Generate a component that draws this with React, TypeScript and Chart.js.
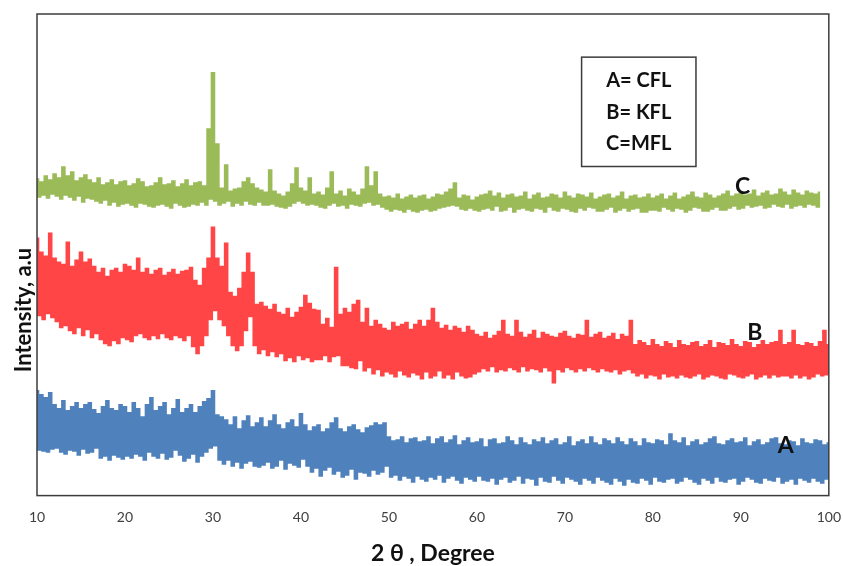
import { useEffect, useRef } from "react";
import { Chart, registerables } from "chart.js";

Chart.register(...registerables);

// 2θ grid of the scan: start and step (degrees)
const ANGLE_START = 10;
const ANGLE_STEP = 0.25;
const X_TICKS = [10, 20, 30, 40, 50, 60, 70, 80, 90, 100];

// C = MFL (green), offset trace, 10° .. 99° (one row = 5°)
const SERIES_C = [
  315, 298, 312, 300, 318, 297, 314, 301, 320, 299, 316, 296, 327, 300, 318, 298, 322, 295, 313, 299,
  316, 293, 319, 297, 314, 296, 311, 294, 316, 292, 309, 295, 311, 290, 314, 293, 309, 289, 312, 291,
  313, 292, 308, 290, 310, 288, 315, 292, 312, 291, 307, 289, 308, 288, 311, 290, 316, 291, 309, 289,
  310, 287, 313, 292, 307, 290, 310, 288, 314, 289, 308, 291, 311, 290, 312, 293, 308, 290, 365, 296,
  421, 294, 350, 290, 306, 292, 329, 294, 303, 289, 305, 292, 306, 290, 312, 294, 316, 291, 310, 290,
  306, 293, 304, 290, 302, 290, 324, 291, 303, 289, 300, 288, 298, 287, 302, 289, 310, 292, 326, 294,
  306, 292, 303, 290, 316, 291, 300, 290, 302, 288, 299, 287, 306, 290, 322, 292, 300, 289, 303, 290,
  298, 287, 305, 291, 302, 290, 299, 289, 305, 292, 327, 293, 308, 290, 322, 291, 300, 288, 297, 286,
  298, 284, 296, 286, 300, 285, 295, 283, 297, 286, 299, 284, 296, 283, 298, 285, 299, 286, 295, 284,
  297, 285, 300, 287, 299, 288, 302, 289, 305, 290, 311, 289, 296, 286, 299, 285, 298, 287, 294, 285,
  297, 284, 299, 286, 300, 287, 303, 285, 298, 289, 301, 284, 296, 285, 299, 288, 300, 283, 297, 286,
  298, 287, 302, 285, 295, 284, 299, 287, 301, 286, 296, 283, 297, 288, 300, 285, 299, 284, 296, 287,
  302, 286, 298, 284, 296, 283, 300, 287, 299, 285, 297, 288, 301, 287, 295, 284, 297, 284, 299, 286,
  300, 288, 296, 283, 298, 285, 302, 287, 295, 284, 298, 286, 299, 287, 296, 283, 297, 283, 300, 285,
  296, 285, 298, 284, 300, 288, 295, 286, 298, 284, 301, 287, 295, 286, 297, 283, 299, 285, 302, 288,
  297, 287, 296, 284, 301, 284, 299, 286, 296, 288, 298, 285, 300, 285, 303, 287, 298, 289, 300, 286,
  302, 287, 299, 290, 300, 288, 304, 289, 298, 290, 301, 287, 303, 288, 299, 291, 300, 289, 305, 288,
  302, 291, 299, 287, 304, 289, 301, 290, 299, 288, 303, 291, 301, 290, 300, 288, 302,
];

// B = KFL (red), 10° .. 100° (one row = 5°)
const SERIES_B = [
  256, 180, 242, 176, 238, 182, 261, 178, 236, 174, 232, 168, 230, 170, 252, 165, 228, 162, 234, 168,
  242, 160, 232, 166, 235, 158, 228, 162, 222, 156, 226, 152, 218, 150, 224, 155, 226, 152, 222, 158,
  230, 156, 228, 154, 224, 160, 236, 162, 222, 158, 226, 156, 220, 160, 224, 157, 226, 162, 219, 158,
  222, 156, 225, 160, 220, 158, 223, 155, 224, 160, 227, 149, 214, 142, 209, 150, 226, 160, 236, 176,
  267, 185, 236, 176, 228, 170, 251, 160, 202, 150, 198, 145, 206, 150, 222, 165, 241, 179, 222, 150,
  190, 142, 192, 146, 188, 140, 185, 144, 190, 139, 182, 142, 180, 135, 186, 138, 177, 134, 182, 140,
  187, 136, 199, 138, 191, 134, 185, 136, 184, 136, 170, 140, 176, 134, 167, 139, 227, 140, 180, 130,
  186, 130, 182, 128, 190, 127, 194, 135, 172, 125, 186, 128, 168, 122, 174, 126, 170, 120, 166, 124,
  164, 122, 172, 119, 168, 125, 170, 121, 172, 119, 165, 123, 170, 121, 174, 117, 168, 124, 174, 118,
  186, 120, 172, 125, 166, 118, 169, 121, 164, 117, 168, 124, 166, 120, 162, 118, 168, 119, 164, 122,
  160, 124, 158, 127, 162, 125, 156, 129, 159, 124, 163, 126, 174, 125, 160, 128, 158, 126, 174, 124,
  162, 129, 157, 125, 160, 127, 164, 126, 156, 124, 162, 128, 160, 125, 158, 113, 157, 126, 161, 124,
  163, 128, 158, 126, 156, 124, 160, 127, 159, 125, 174, 128, 157, 126, 160, 124, 162, 127, 156, 125,
  158, 124, 161, 126, 155, 122, 160, 125, 158, 126, 174, 123, 150, 120, 154, 122, 152, 118, 149, 121,
  155, 120, 150, 117, 148, 122, 153, 119, 151, 120, 147, 118, 154, 121, 150, 119, 149, 118, 152, 120,
  153, 122, 148, 117, 150, 119, 154, 121, 147, 120, 152, 118, 151, 117, 149, 122, 155, 121, 150, 119,
  148, 118, 153, 120, 152, 122, 147, 117, 150, 119, 154, 121, 150, 118, 152, 121, 153, 119, 164, 120,
  150, 120, 152, 118, 164, 121, 150, 118, 149, 120, 152, 117, 151, 119, 148, 122, 153, 120, 164, 121,
  150,
];

// A = CFL (blue), 10° .. 100° (one row = 5°)
const SERIES_A = [
  104, 46, 100, 45, 97, 44, 102, 47, 90, 48, 86, 44, 94, 42, 84, 46, 88, 45, 92, 41,
  86, 47, 90, 43, 92, 44, 85, 48, 81, 38, 88, 40, 94, 36, 86, 41, 84, 39, 90, 37,
  88, 40, 82, 38, 92, 42, 86, 40, 78, 36, 90, 44, 97, 40, 84, 38, 88, 43, 92, 37,
  80, 39, 86, 46, 95, 41, 82, 35, 86, 38, 90, 42, 82, 34, 88, 40, 93, 44, 96, 48,
  104, 50, 80, 36, 78, 32, 75, 36, 70, 30, 78, 34, 66, 28, 74, 33, 79, 35, 68, 30,
  72, 29, 77, 31, 68, 34, 74, 28, 80, 30, 70, 36, 66, 27, 72, 33, 75, 31, 68, 29,
  81, 37, 70, 30, 64, 24, 68, 28, 70, 20, 63, 26, 66, 29, 72, 22, 77, 25, 66, 19,
  63, 21, 68, 27, 70, 17, 65, 24, 62, 23, 67, 20, 69, 26, 72, 22, 70, 24, 72, 30,
  58, 19, 54, 21, 55, 16, 58, 20, 52, 18, 56, 14, 57, 20, 53, 17, 54, 15, 58, 19,
  51, 17, 56, 21, 58, 14, 52, 18, 55, 20, 59, 16, 50, 13, 54, 19, 57, 17, 52, 15,
  53, 20, 56, 16, 48, 15, 55, 18, 56, 12, 51, 17, 52, 19, 58, 14, 54, 16, 50, 20,
  57, 13, 52, 18, 50, 17, 55, 11, 53, 19, 57, 15, 51, 14, 54, 20, 56, 16, 50, 13,
  52, 19, 58, 17, 49, 15, 53, 12, 55, 18, 51, 16, 58, 13, 52, 19, 50, 16, 56, 14,
  54, 12, 51, 18, 57, 15, 53, 11, 50, 17, 56, 14, 53, 13, 49, 18, 56, 16, 52, 12,
  51, 19, 55, 15, 54, 14, 50, 17, 61, 18, 54, 13, 52, 15, 57, 19, 49, 17, 53, 14,
  55, 12, 50, 18, 52, 16, 56, 13, 58, 19, 51, 15, 50, 14, 54, 17, 56, 18, 52, 12,
  53, 15, 57, 19, 49, 17, 53, 14, 55, 13, 50, 18, 52, 16, 56, 15, 57, 19, 51, 13,
  50, 15, 54, 17, 53, 12, 49, 18, 56, 16, 52, 14, 51, 18, 55, 15, 54, 13, 50, 17,
  52,
];

const SERIES_LABELS = ["A", "B", "C"];
const LEGEND_LINES = ["A= CFL", "B= KFL", "C=MFL"];
const X_TITLE = "2 θ , Degree";
const Y_TITLE = "Intensity, a.u";

const COLOR_A = "#4F81BD";
const COLOR_B = "#FF4545";
const COLOR_C = "#9BBB59";

const toPoints = (vals: number[]) =>
  vals.map((v, i) => ({ x: ANGLE_START + i * ANGLE_STEP, y: v }));

const FONT = "Lato, 'Open Sans', sans-serif";

const overlay = {
  id: "overlay",
  afterDraw(chart: any) {
    const { ctx, chartArea: ca, scales } = chart;
    const xs = scales.x;
    const ys = scales.y;
    ctx.save();
    // frame
    ctx.strokeStyle = "#3c3c3c";
    ctx.lineWidth = 1.5;
    ctx.strokeRect(ca.left, ca.top, ca.right - ca.left, ca.bottom - ca.top);

    // curve letters
    ctx.fillStyle = "#111";
    ctx.font = `bold 23px ${FONT}`;
    ctx.textAlign = "center";
    ctx.textBaseline = "middle";
    const letterPos: [number, number][] = [
      [95.1, 50],
      [91.6, 162],
      [90.2, 308],
    ];
    SERIES_LABELS.forEach((t, i) => {
      ctx.fillText(t, xs.getPixelForValue(letterPos[i][0]), ys.getPixelForValue(letterPos[i][1]));
    });

    // legend box
    const bx0 = xs.getPixelForValue(71.9);
    const bx1 = xs.getPixelForValue(84.9);
    const by0 = ys.getPixelForValue(437);
    const by1 = ys.getPixelForValue(328);
    ctx.fillStyle = "#fff";
    ctx.fillRect(bx0, by0, bx1 - bx0, by1 - by0);
    ctx.strokeStyle = "#3c3c3c";
    ctx.lineWidth = 1.5;
    ctx.strokeRect(bx0, by0, bx1 - bx0, by1 - by0);
    ctx.fillStyle = "#111";
    ctx.font = `bold 20px ${FONT}`;
    const lineY = [414, 382, 351];
    LEGEND_LINES.forEach((t, i) => {
      ctx.fillText(t, (bx0 + bx1) / 2, ys.getPixelForValue(lineY[i]));
    });

    // y title
    ctx.translate(ca.left - 13, 310);
    ctx.rotate(-Math.PI / 2);
    ctx.font = `bold 22px ${FONT}`;
    ctx.fillText(Y_TITLE, 0, 0);
    ctx.restore();
  },
};

export default function App() {
  const ref = useRef<HTMLCanvasElement | null>(null);
  useEffect(() => {
    if (!ref.current) return;
    const lineStyle = { borderWidth: 2.4, stepped: "middle" as const, borderJoinStyle: "miter" as const };
    const chart = new Chart(ref.current, {
      type: "line",
      data: {
        datasets: [
          { label: "A", data: toPoints(SERIES_A), borderColor: COLOR_A, ...lineStyle },
          { label: "B", data: toPoints(SERIES_B), borderColor: COLOR_B, ...lineStyle },
          { label: "C", data: toPoints(SERIES_C), borderColor: COLOR_C, ...lineStyle },
        ],
      },
      options: {
        responsive: false,
        animation: false,
        layout: { padding: { left: 37, right: 2, top: 14, bottom: 0 } },
        elements: { point: { radius: 0 }, line: { tension: 0 } },
        plugins: { legend: { display: false }, tooltip: { enabled: false } },
        scales: {
          x: {
            type: "linear",
            min: 10,
            max: 100,
            grid: {
              display: true,
              drawOnChartArea: false,
              drawTicks: true,
              tickLength: 11,
              tickColor: "rgba(0,0,0,0)",
            },
            border: { display: false },
            afterBuildTicks: (axis: any) => {
              axis.ticks = X_TICKS.map((v) => ({ value: v }));
            },
            ticks: {
              padding: 2,
              color: "#404040",
              maxRotation: 0,
              autoSkip: false,
              font: { family: FONT, size: 14 },
            },
            title: {
              display: true,
              text: X_TITLE,
              color: "#111",
              padding: { top: 14, bottom: 0 },
              font: { family: FONT, size: 23, weight: "bold", lineHeight: 1.07 },
            },
          },
          y: { display: false, min: 0, max: 480 },
        },
      },
      plugins: [overlay],
    });
    return () => chart.destroy();
  }, []);
  return (
    <div style={{ position: "fixed", left: 0, top: 0, width: 843, height: 566, background: "#fff" }}>
      <canvas ref={ref} width={843} height={566} style={{ display: "block" }} />
    </div>
  );
}
